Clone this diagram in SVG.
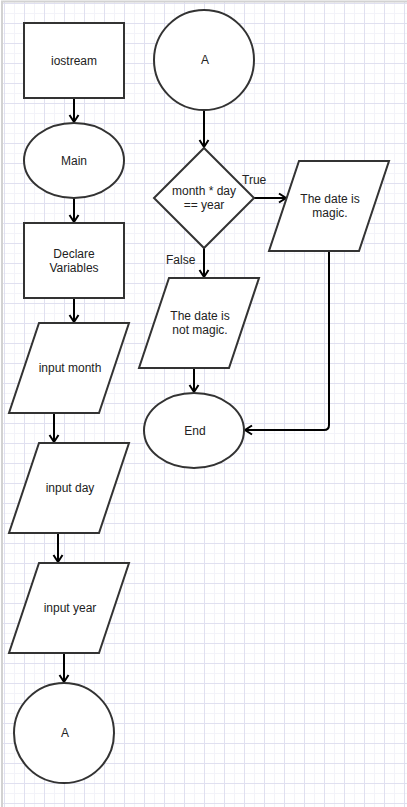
<svg xmlns="http://www.w3.org/2000/svg" width="407" height="807" viewBox="0 0 407 807">
<style>
.shape{fill:#fff;stroke:#333;stroke-width:2}
.lbl{font-family:"Liberation Sans",Arial,sans-serif;font-size:12px;fill:#222;text-anchor:middle}
.elbl{font-family:"Liberation Sans",Arial,sans-serif;font-size:12px;fill:#222}
.conn{fill:none;stroke:#000;stroke-width:2;marker-end:url(#arr)}
</style>
<defs>
<pattern id="minor" x="4" y="3" width="10" height="10" patternUnits="userSpaceOnUse">
<path d="M0.5,0 V10 M0,0.5 H10" fill="none" stroke="#f3f3f9" stroke-width="1"/>
</pattern>
<pattern id="major" x="4" y="3" width="20" height="20" patternUnits="userSpaceOnUse">
<path d="M0.5,0 V20 M0,0.5 H20" fill="none" stroke="#e0e0f0" stroke-width="1"/>
</pattern>
<marker id="arr" markerUnits="userSpaceOnUse" markerWidth="20" markerHeight="20" viewBox="-10 -10 20 20" refX="0" refY="0" orient="auto" overflow="visible">
<path d="M-7,-4.5 L0,0 L-7,4.5" fill="none" stroke="#000" stroke-width="2"/>
</marker>
</defs>
<rect x="0" y="0" width="407" height="807" fill="#fff"/>
<rect x="3" y="2" width="404" height="805" fill="url(#minor)"/>
<rect x="3" y="2" width="404" height="805" fill="url(#major)"/>
<path d="M2,807 V1.5 H407" fill="none" stroke="#d2d2d2" stroke-width="2"/>

<g id="connectors">
<path class="conn" d="M74,98 V122"/>
<path class="conn" d="M74,198 V222"/>
<path class="conn" d="M74,298 V322"/>
<path class="conn" d="M54,413 V442"/>
<path class="conn" d="M58,533 V562"/>
<path class="conn" d="M64,653 V682"/>
<path class="conn" d="M204,110 V147"/>
<path class="conn" d="M254,198 H286"/>
<path class="conn" d="M204,248 V277"/>
<path class="conn" d="M194,368 V392"/>
<path class="conn" d="M329,251 V425 Q329,430 324,430 H245"/>
<text class="elbl" x="242" y="184">True</text>
<text class="elbl" x="166" y="264">False</text>
</g>

<g id="iostream">
<rect class="shape" x="24" y="23" width="100" height="75"/>
<text class="lbl" x="74" y="65">iostream</text>
</g>
<g id="main">
<ellipse class="shape" cx="74" cy="160.5" rx="50" ry="37.5"/>
<text class="lbl" x="74" y="165">Main</text>
</g>
<g id="declare">
<rect class="shape" x="24" y="223" width="100" height="75"/>
<text class="lbl" x="74" y="258">Declare</text>
<text class="lbl" x="74" y="272">Variables</text>
</g>
<g id="input-month">
<polygon class="shape" points="39,323 129,323 99,413 9,413"/>
<text class="lbl" x="70" y="372">input month</text>
</g>
<g id="input-day">
<polygon class="shape" points="39,443 129,443 99,533 9,533"/>
<text class="lbl" x="70" y="492">input day</text>
</g>
<g id="input-year">
<polygon class="shape" points="39,563 129,563 99,653 9,653"/>
<text class="lbl" x="70" y="612">input year</text>
</g>
<g id="connector-a-out">
<circle class="shape" cx="64" cy="733" r="50"/>
<text class="lbl" x="65" y="737">A</text>
</g>
<g id="connector-a-in">
<circle class="shape" cx="204" cy="60" r="50"/>
<text class="lbl" x="205" y="64">A</text>
</g>
<g id="decision">
<polygon class="shape" points="204,148 254,198 204,248 154,198"/>
<text class="lbl" x="204" y="195">month * day</text>
<text class="lbl" x="204" y="209">== year</text>
</g>
<g id="magic">
<polygon class="shape" points="299,161 389,161 359,251 269,251"/>
<text class="lbl" x="330" y="203">The date is</text>
<text class="lbl" x="330" y="217">magic.</text>
</g>
<g id="not-magic">
<polygon class="shape" points="169,278 259,278 229,368 139,368"/>
<text class="lbl" x="200" y="320">The date is</text>
<text class="lbl" x="200" y="334">not magic.</text>
</g>
<g id="end">
<ellipse class="shape" cx="194" cy="430.5" rx="50" ry="37.5"/>
<text class="lbl" x="195" y="435">End</text>
</g>
</svg>
